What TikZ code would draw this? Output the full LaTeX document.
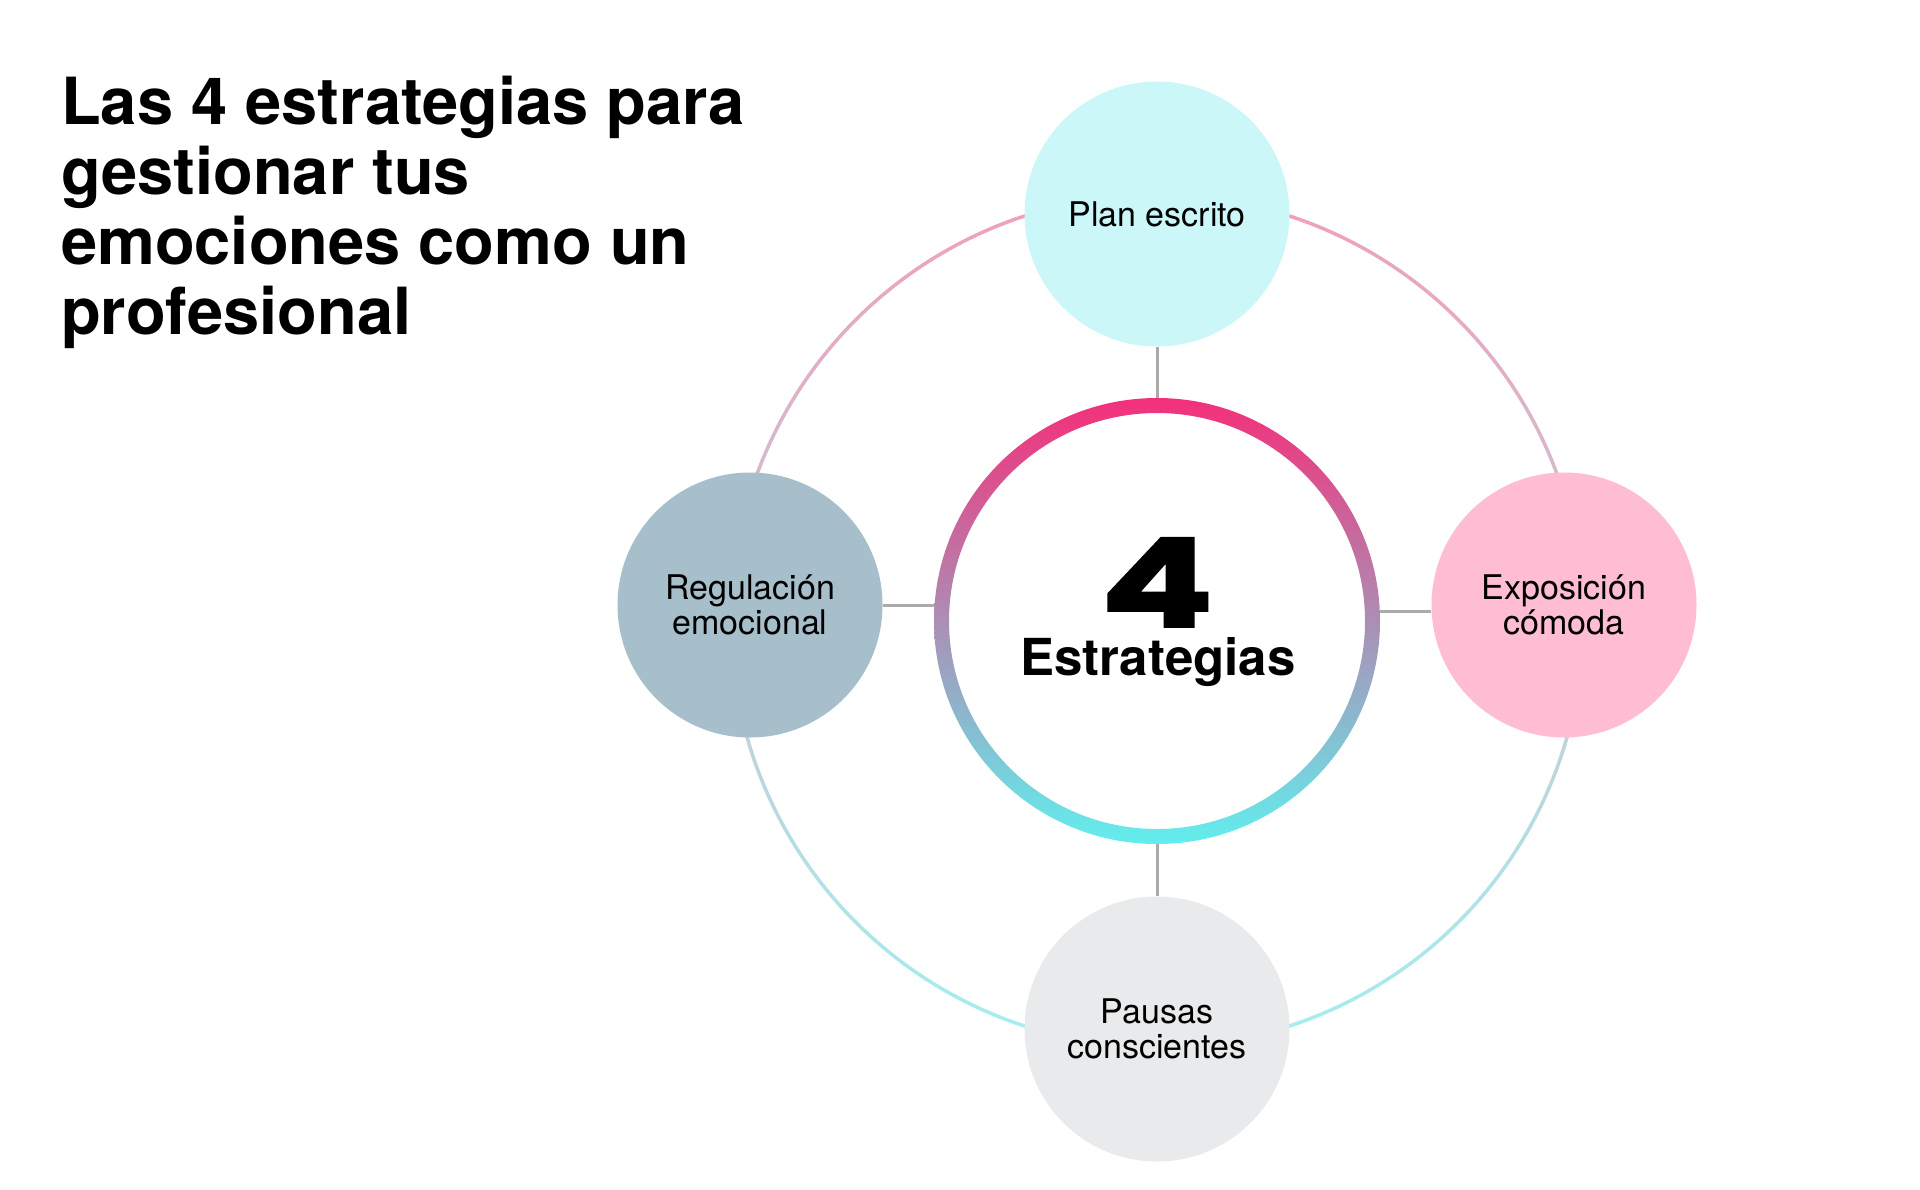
\documentclass[tikz,border=0pt]{standalone}
\usepackage{fontspec}
\setmainfont{TeX Gyre Heros}
\newfontfamily\fourfont{Poppins}[FakeBold=1.5]
\definecolor{topfill}{HTML}{CCF7F8}
\definecolor{leftfill}{HTML}{A7BFCA}
\definecolor{rightfill}{HTML}{FEBDD3}
\definecolor{botfill}{HTML}{E8EAEB}
\definecolor{linkgray}{HTML}{ABABAB}
\definecolor{ringtop}{HTML}{F42F7A}
\definecolor{ringmid}{HTML}{B48DB4}
\definecolor{ringbot}{HTML}{62EEEE}
\definecolor{outtop}{HTML}{F09FBB}
\definecolor{outmid}{HTML}{D5CBDB}
\definecolor{outbot}{HTML}{A3F0F0}
\begin{document}
\begin{tikzpicture}[x=1pt,y=-1pt,
  sat/.style={circle, minimum size=265pt, inner sep=0pt, align=center,
    font=\fontsize{34}{35}\selectfont, text=black},
  link/.style={draw=linkgray, line width=3pt},
  titleline/.style={anchor=base west, inner sep=0pt,
    font=\fontsize{65}{70}\selectfont\bfseries}]
\fill[white] (0,0) rectangle (1920,1189);
\useasboundingbox (0,0) rectangle (1920,1189);
% centre hub
\node[circle, minimum size=446pt, inner sep=0pt] (C) at (1157,621) {};
% outer ring (behind satellites)
\shade[even odd rule, top color=outtop, middle color=outmid, bottom color=outbot]
  (C.center) circle (427.75pt) (C.center) circle (424.25pt);
% satellites
\node[sat, fill=topfill] (T) at (1157,214) {Plan escrito};
\node[sat, fill=leftfill] (L) at (750,605) {Regulación\\emocional};
\node[sat, fill=rightfill] (R) at (1564,605) {Exposición\\cómoda};
\node[sat, fill=botfill] (B) at (1157,1029) {Pausas\\conscientes};
% gradient ring of the hub
\shade[even odd rule, top color=ringtop, middle color=ringmid, bottom color=ringbot]
  (C.center) circle (223pt) (C.center) circle (208pt);
% connectors
\draw[link] (T.south) -- (T.south |- C.north);
\draw[link] (L.east) -- (L.east -| C.west);
\draw[link] ([yshift=-6pt]R.west) -- ([yshift=-6pt]R.west -| C.east);
\draw[link] (B.north) -- (B.north |- C.south);
% hub text
\node[anchor=base, inner sep=0pt, font=\fourfont\bfseries\fontsize{124}{124}\selectfont] (four) at (1157,627) {\scalebox{1.35}[1]{4}};
\node[anchor=base, inner sep=0pt, font=\bfseries\fontsize{51}{51}\selectfont] (est) at (1158,675) {Estrategias};
% title
\node[titleline] (t1) at (61,124) {Las 4 estrategias para};
\node[titleline] (t2) at (61,194) {gestionar tus};
\node[titleline] (t3) at (61,264) {emociones como un};
\node[titleline] (t4) at (61,334) {profesional};
\end{tikzpicture}
\end{document}
